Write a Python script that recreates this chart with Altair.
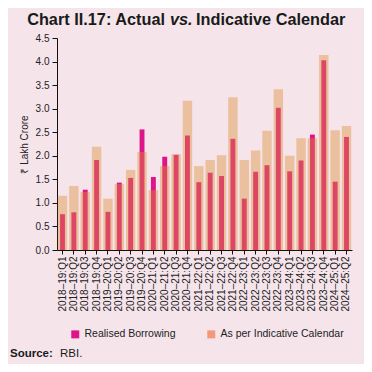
import altair as alt
import pandas as pd

quarters = [
    "2018–19:Q1", "2018–19:Q2", "2018–19:Q3", "2018–19:Q4",
    "2019–20:Q1", "2019–20:Q2", "2019–20:Q3", "2019–20:Q4",
    "2020–21:Q1", "2020–21:Q2", "2020–21:Q3", "2020–21:Q4",
    "2021–22:Q1", "2021–22:Q2", "2021–22:Q3", "2021–22:Q4",
    "2022–23:Q1", "2022–23:Q2", "2022–23:Q3", "2022–23:Q4",
    "2023–24:Q1", "2023–24:Q2", "2023–24:Q3", "2023–24:Q4",
    "2024–25:Q1", "2024–25:Q2",
]
indicative = [1.15, 1.36, 1.23, 2.19, 1.09, 1.40, 1.70, 2.08,
              1.27, 1.78, 2.03, 3.17, 1.78, 1.91, 2.01, 3.24,
              1.91, 2.11, 2.53, 3.41, 2.00, 2.37, 2.37, 4.14,
              2.54, 2.63]
realised = [0.76, 0.80, 1.28, 1.91, 0.81, 1.43, 1.53, 2.56,
            1.55, 1.98, 2.02, 2.43, 1.44, 1.64, 1.57, 2.36,
            1.09, 1.66, 1.80, 3.02, 1.67, 1.90, 2.45, 4.03,
            1.45, 2.40]
series_names = ["Realised Borrowing", "As per Indicative Calendar"]
y_ticks = [0, 0.5, 1.0, 1.5, 2.0, 2.5, 3.0, 3.5, 4.0, 4.5]

BG = "#f5e5eb"
MAGENTA = "#dd1587"
PEACH = "#dd8d34"
SALMON = "#f4987a"
FONT = "Liberation Sans"

df = pd.DataFrame({"quarter": quarters, "indicative": indicative, "realised": realised})

x_enc = alt.X("quarter:N", sort=quarters,
              scale=alt.Scale(paddingInner=0.17, paddingOuter=0.07),
              axis=alt.Axis(title=None, labelAngle=-90, labelFontSize=10, labelColor="#222",
                            labelFont=FONT, labelPadding=2, tickSize=4, tickColor="#111",
                            domainColor="#111", labelBaseline="middle"))
y_scale = alt.Scale(domain=[0, 4.5], nice=False)
y_axis = alt.Axis(title="₹ Lakh Crore", titleFontSize=10, titleFontWeight="normal",
                  titleFont=FONT, titleColor="#222", titlePadding=6,
                  values=y_ticks, format=".1f", labelFontSize=10, labelColor="#222",
                  labelFont=FONT, tickSize=5, tickColor="#111", domainColor="#111",
                  grid=False, labelPadding=3)

real_bar = alt.Chart(df).mark_bar(color=MAGENTA, width=alt.RelativeBandSize(0.52)).encode(
    x=x_enc,
    y=alt.Y("realised:Q", scale=y_scale, axis=y_axis),
)
ind_bar = alt.Chart(df).mark_bar(color=PEACH, opacity=0.42).encode(
    x=x_enc,
    y=alt.Y("indicative:Q", scale=y_scale, axis=y_axis),
)

leg_df = pd.DataFrame({"series": series_names})
legend_layer = alt.Chart(leg_df).mark_square(opacity=0, size=1).encode(
    color=alt.Color("series:N", sort=series_names,
                    scale=alt.Scale(domain=series_names, range=[MAGENTA, SALMON]),
                    legend=alt.Legend(title=None, orient="none", direction="horizontal",
                                      legendX=13, legendY=291, columnPadding=30,
                                      symbolType="square", symbolSize=64, symbolOpacity=1,
                                      symbolStrokeWidth=0, labelFontSize=10.5, labelFont=FONT,
                                      labelColor="#222", labelOffset=4))
)


def text_layer(txt, x, y, size, weight="normal", style="normal", align="left"):
    return alt.Chart(pd.DataFrame({"t": [txt]})).mark_text(
        align=align, baseline="alphabetic", fontSize=size, fontWeight=weight,
        fontStyle=style, font=FONT, color="#1a1a1a"
    ).encode(text="t:N", x=alt.value(x), y=alt.value(y))


title1 = text_layer("Chart II.17: Actual", 108, -13, 16.3, "bold", align="right")
title2 = text_layer("vs.", 113, -13, 16.3, "bold", "italic")
title3 = text_layer("Indicative Calendar", 139, -13, 16.3, "bold")
src1 = text_layer("Source:", -47, 319, 11.5, "bold")
src2 = text_layer("RBI.", 3, 319, 11.5)

chart = alt.layer(real_bar, ind_bar, legend_layer, title1, title2, title3, src1, src2).properties(
    width=295, height=212,
    autosize=alt.AutoSizeParams(type="none"),
    padding={"left": 49, "top": 30, "right": 12, "bottom": 114},
    background=BG,
).configure_view(stroke=None).configure_axis(domainWidth=1)

chart.save("out.html", embed_options={"renderer": "svg", "actions": False})
